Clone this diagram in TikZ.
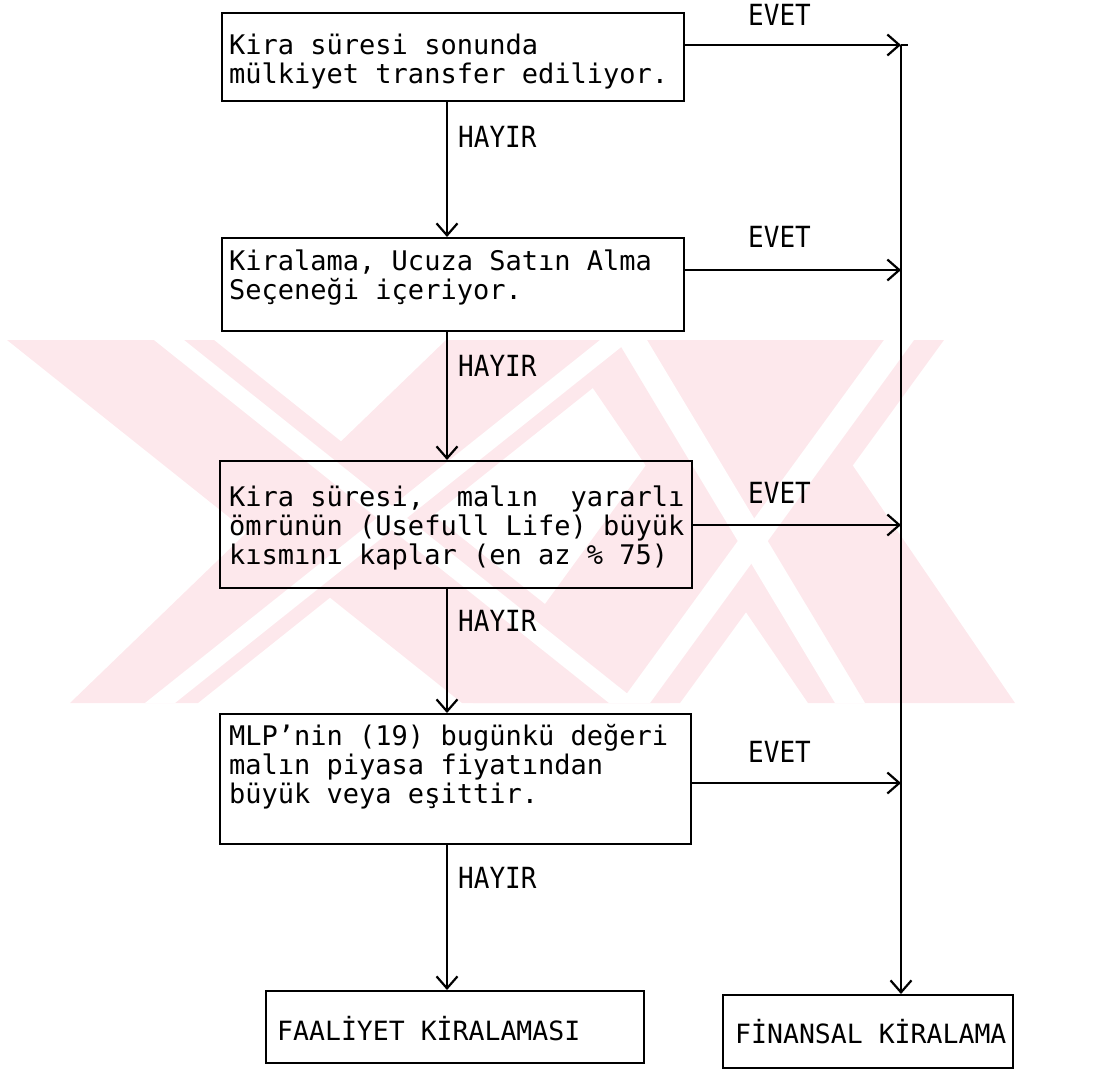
\documentclass[tikz,border=0pt]{standalone}
\usepackage{fontspec}
\usepackage{graphicx}
\setmonofont{DejaVu Sans Mono}
\usetikzlibrary{arrows.meta}
\definecolor{wm}{RGB}{253,232,236}
\begin{document}
\begin{tikzpicture}[x=1pt,y=-1pt,
  bx/.style={draw, line width=2.2pt, inner sep=0pt, anchor=north west},
  txt/.style={font=\fontsize{27}{29}\selectfont\ttfamily, anchor=base west, inner sep=0pt},
  lab/.style={font=\fontsize{26}{29}\selectfont\ttfamily, anchor=base west, inner sep=0pt},
  fin/.style={font=\fontsize{26.5}{29}\selectfont\ttfamily, anchor=base west, inner sep=0pt},
  arr/.style={line width=2pt, -{Straight Barb[length=12pt,width=21pt,line width=2.2pt]}},
  ln/.style={line width=2pt}]
\useasboundingbox (0,0) rectangle (1100,1074);
% watermark (approximate)
\begin{scope}
\fill[wm] (7,340) -- (214,340) -- (669,703) -- (462,703) -- cycle;
\fill[wm] (446,340) -- (653,340) -- (198,703) -- (70,703) -- cycle;
\fill[wm] (560,340) -- (767,340) -- (1015,703) -- (808,703) -- cycle;
\fill[wm] (737,340) -- (944,340) -- (680,703) -- (473,703) -- cycle;
\fill[white] (154,340) -- (184,340) -- (639,703) -- (609,703) -- cycle;
\fill[white] (600,340) -- (630,340) -- (175,703) -- (145,703) -- cycle;
\fill[white] (617,340) -- (647,340) -- (865,703) -- (835,703) -- cycle;
\fill[white] (884,340) -- (914,340) -- (650,703) -- (620,703) -- cycle;
\end{scope}
% boxes
\node[bx, minimum width=462pt, minimum height=88pt] (b1) at (221,12) {};
\node[bx, minimum width=462pt, minimum height=93pt] (b2) at (221,237) {};
\node[bx, minimum width=472pt, minimum height=127pt] (b3) at (219,460) {};
\node[bx, minimum width=471pt, minimum height=130pt] (b4) at (219,713) {};
\node[bx, minimum width=378pt, minimum height=72pt] (bf) at (265,990) {};
\node[bx, minimum width=290pt, minimum height=73pt] (bn) at (722,994) {};
% texts
\node[txt] (t1) at (229,54) {\begin{tabular}[t]{@{}l@{}}Kira süresi sonunda\\mülkiyet transfer ediliyor.\end{tabular}};
\node[txt] (t2) at (229,270) {\begin{tabular}[t]{@{}l@{}}Kiralama, Ucuza Satın Alma\\Seçeneği içeriyor.\end{tabular}};
\node[txt] (t3) at (229,506) {\begin{tabular}[t]{@{}l@{}}Kira süresi,~~malın~~yararlı\\ömrünün (Usefull Life) büyük\\kısmını kaplar (en az \% 75)\end{tabular}};
\node[txt] (t4) at (229,745) {\begin{tabular}[t]{@{}l@{}}MLP’nin (19) bugünkü değeri\\malın piyasa fiyatından\\büyük veya eşittir.\end{tabular}};
\node[fin] (tf) at (277,1040) {FAALİYET KİRALAMASI};
\node[fin] (tn) at (735,1043) {FİNANSAL KİRALAMA};
% column coordinates
\coordinate (cx) at (447,0);
\coordinate (e1) at (901,45);
\coordinate (e2) at (901,270);
\coordinate (e3) at (901,525);
\coordinate (e4) at (901,783);
% HAYIR connectors
\draw[arr] (b1.south -| cx) -- (b2.north -| cx);
\draw[arr] (b2.south -| cx) -- (b3.north -| cx);
\draw[arr] (b3.south -| cx) -- (b4.north -| cx);
\draw[arr] (b4.south -| cx) -- (bf.north -| cx);
\node[lab] (h1) at (458,147) {\scalebox{1}[1.12]{HAYIR}};
\node[lab] (h2) at (458,376) {\scalebox{1}[1.12]{HAYIR}};
\node[lab] (h3) at (458,631) {\scalebox{1}[1.12]{HAYIR}};
\node[lab] (h4) at (458,888) {\scalebox{1}[1.12]{HAYIR}};
% EVET connectors
\draw[arr] (b1.east |- e1) -- (e1);
\draw[ln] (e1) -- ++(7,0);
\draw[arr] (b2.east |- e2) -- (e2);
\draw[arr] (b3.east |- e3) -- (e3);
\draw[arr] (b4.east |- e4) -- (e4);
\draw[arr] (e1) -- (bn.north -| e1);
\node[lab] (v1) at (748,25) {\scalebox{1}[1.12]{EVET}};
\node[lab] (v2) at (748,247) {\scalebox{1}[1.12]{EVET}};
\node[lab] (v3) at (748,503) {\scalebox{1}[1.12]{EVET}};
\node[lab] (v4) at (748,762) {\scalebox{1}[1.12]{EVET}};
\end{tikzpicture}
\end{document}
